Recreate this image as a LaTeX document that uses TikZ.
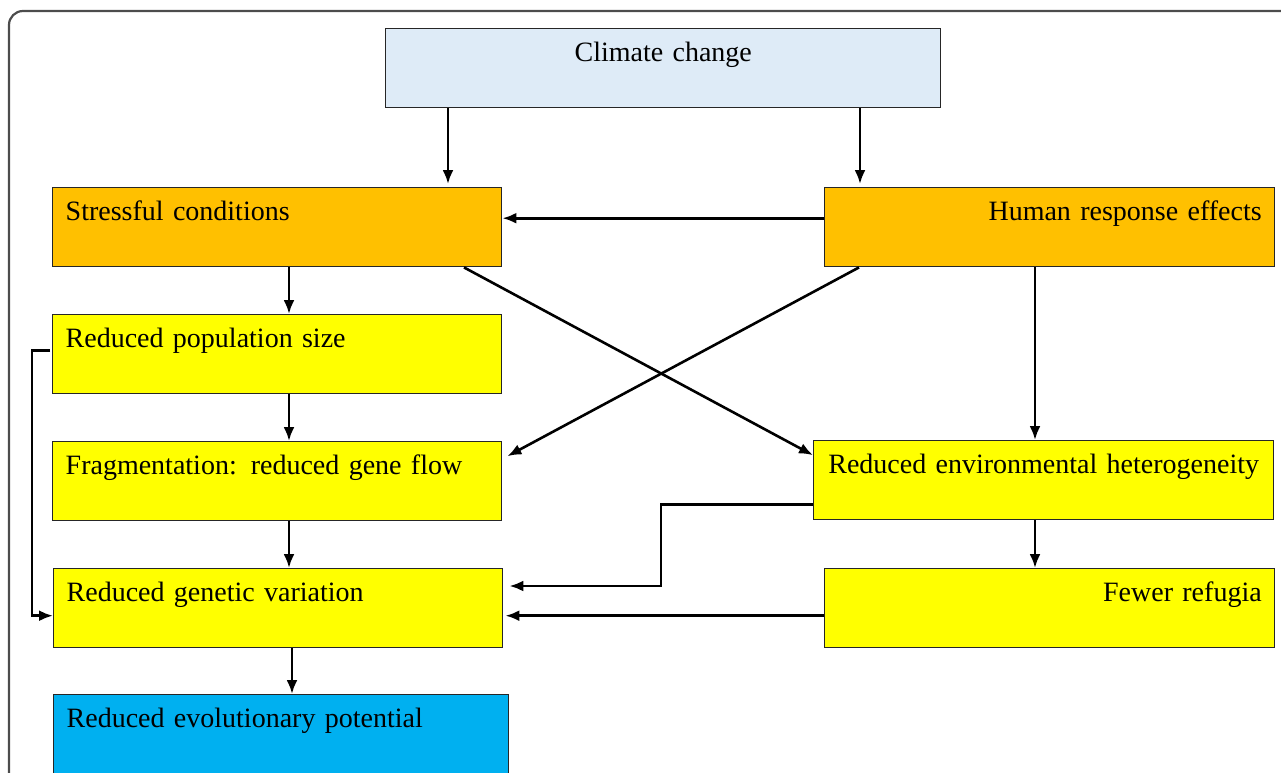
\documentclass[tikz,border=0pt]{standalone}
\usepackage{fontspec}
\setmainfont{Liberation Serif}
\usetikzlibrary{arrows.meta}

\definecolor{skyfill}{HTML}{DEEBF7}
\definecolor{ambfill}{HTML}{FFC000}
\definecolor{yelfill}{HTML}{FFFF00}
\definecolor{cyanfill}{HTML}{00B0F0}

\begin{document}
\begin{tikzpicture}[x=1pt, y=-1pt, >={Latex[length=14pt,width=11pt]},
  box/.style={draw=black!85, line width=1.4pt, anchor=north west, inner xsep=13pt,
    inner ysep=0pt, text height=33pt, text depth=46pt, font=\fontsize{28}{34}\selectfont},
  link/.style={->, line width=2.6pt}]
\useasboundingbox (0,0) rectangle (1281,772);
\clip (0,0) rectangle (1281,772);
\draw[black!70, line width=2.2pt, rounded corners=14pt] (9,11) rectangle (1320,820);

% boxes
\node[box, fill=skyfill, text width=529pt, align=center] (climate) at (385,28) {Climate change};
\node[box, fill=ambfill, text width=423pt, align=left] (stress) at (52,187) {Stressful conditions};
\node[box, fill=ambfill, text width=424pt, align=right] (human) at (824,187) {Human response effects};
\node[box, fill=yelfill, text width=423pt, align=left] (pop) at (52,314) {Reduced population size};
\node[box, fill=yelfill, text width=423pt, align=left] (frag) at (52,441) {Fragmentation: reduced gene flow};
\node[box, fill=yelfill, text width=434pt, align=center] (env) at (813,440) {Reduced environmental heterogeneity};
\node[box, fill=yelfill, text width=423pt, align=left] (genvar) at (53,568) {Reduced genetic variation};
\node[box, fill=yelfill, text width=424pt, align=right] (fewer) at (824,568) {Fewer refugia};
\node[box, fill=cyanfill, text width=429pt, align=left, text depth=90pt] (evol) at (53,694) {Reduced evolutionary potential};

% arrow columns
\coordinate (c1) at (448,0);
\coordinate (c2) at (860,0);
\coordinate (c3) at (289,0);
\coordinate (c4) at (1035,0);
\coordinate (c5) at (292,0);
\coordinate (c6) at (464,0);
\coordinate (c7) at (859,0);
\coordinate (bend) at (661,586);

\draw[link] (climate.south -| c1) -- ([yshift=3pt]stress.north -| c1);
\draw[link] (climate.south -| c2) -- ([yshift=3pt]human.north -| c2);
\draw[link] ([yshift=9pt]human.west) -- ([yshift=9pt]stress.east);
\draw[link] (stress.south -| c3) -- (pop.north -| c3);
\draw[link] (stress.south -| c6) -- ([yshift=25pt]env.west);
\draw[link] (human.south -| c7) -- ([xshift=5pt,yshift=25pt]frag.east);
\draw[link] (human.south -| c4) -- (env.north -| c4);
\draw[link] (pop.south -| c3) -- (frag.north -| c3);
\draw[link] (frag.south -| c3) -- (genvar.north -| c3);
\draw[link] (env.south -| c4) -- (fewer.north -| c4);
\draw[link] ([yshift=-24pt]env.west) -| (bend) -- ([xshift=6pt]genvar.east |- bend);
\draw[link] ([yshift=-7.5pt]fewer.west) -- ([xshift=2pt,yshift=-7.5pt]genvar.east);
\draw[link] ([yshift=3.5pt,xshift=-2pt]pop.west) -- ++(-18,0) |- ([yshift=-7.5pt]genvar.west);
\draw[link] (genvar.south -| c5) -- (evol.north -| c5);

\end{tikzpicture}
\end{document}
